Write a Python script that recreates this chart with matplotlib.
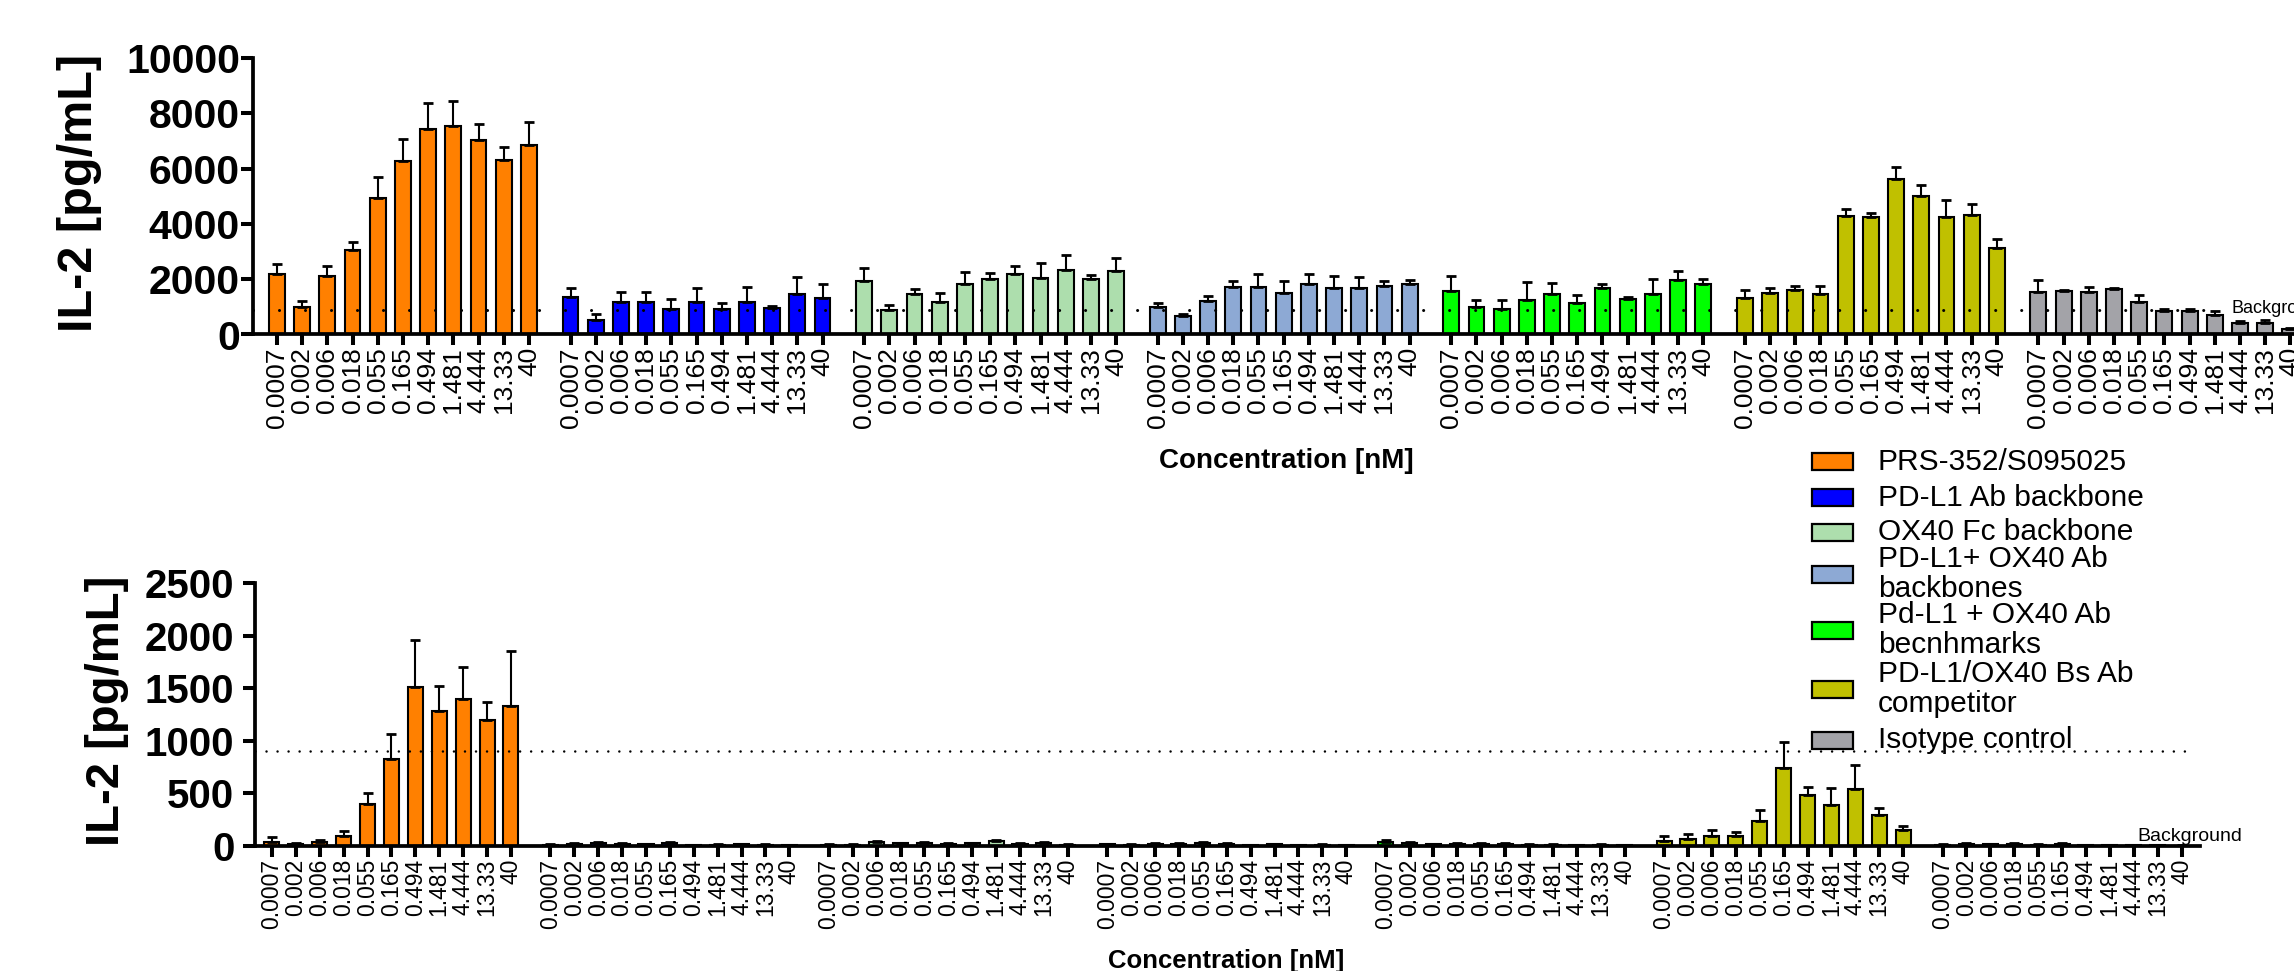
import matplotlib
matplotlib.use("Agg")
import matplotlib.pyplot as plt
from matplotlib.patches import Rectangle
import numpy as np

plt.rcParams["font.family"] = ["Liberation Sans", "DejaVu Sans"]

# ---------------------------------------------------------------- data
concentrations = ["0.0007", "0.002", "0.006", "0.018", "0.055", "0.165",
                  "0.494", "1.481", "4.444", "13.33", "40"]

group_names = ["PRS-352/S095025", "PD-L1 Ab backbone", "OX40 Fc backbone",
               "PD-L1+ OX40 Ab\nbackbones", "Pd-L1 + OX40 Ab\nbecnhmarks",
               "PD-L1/OX40 Bs Ab\ncompetitor", "Isotype control"]
group_colors = ["#FF8000", "#0000FF", "#ADDEAD", "#8DA9D4",
                "#00FF00", "#C0C000", "#A3A3A8"]

background = 900

# upper panel, IL-2 [pg/mL] (mean, SD)
top_prs = [2190, 1000, 2130, 3060, 4950, 6260, 7450, 7550, 7020, 6320, 6870]
top_prs_sd = [350, 220, 350, 280, 760, 810, 940, 890, 600, 460, 830]
top_pdl1 = [1365, 520, 1185, 1185, 930, 1160, 930, 1160, 965, 1475, 1330]
top_pdl1_sd = [330, 230, 350, 350, 350, 510, 200, 560, 50, 620, 510]
top_ox40 = [1945, 880, 1450, 1185, 1835, 2015, 2185, 2055, 2320, 2015, 2305]
top_ox40_sd = [470, 180, 200, 300, 430, 200, 300, 530, 570, 150, 460]
top_combo = [990, 665, 1210, 1715, 1715, 1500, 1835, 1680, 1680, 1765, 1835]
top_combo_sd = [160, 85, 200, 220, 480, 430, 340, 450, 410, 170, 145]
top_bench = [1570, 990, 920, 1255, 1475, 1150, 1680, 1280, 1475, 1970, 1825]
top_bench_sd = [560, 250, 330, 640, 400, 290, 160, 75, 530, 340, 190]
top_bs = [1330, 1500, 1595, 1475, 4275, 4250, 5640, 5025, 4265, 4325, 3140]
top_bs_sd = [265, 190, 160, 290, 265, 145, 435, 375, 600, 410, 300]
top_iso = [1535, 1570, 1545, 1630, 1185, 857, 857, 712, 411, 398, 181]
top_iso_sd = [450, 30, 180, 50, 240, 70, 60, 130, 85, 110, 40]

# lower panel, IL-2 [pg/mL] (mean, SD)
bot_prs = [41, 22, 41, 98, 400, 828, 1507, 1288, 1393, 1202, 1329]
bot_prs_sd = [40, 10, 20, 40, 100, 235, 455, 230, 310, 170, 520]
bot_pdl1 = [12, 22, 30, 18, 15, 25, 10, 12, 15, 10, 8]
bot_pdl1_sd = [5, 8, 8, 6, 5, 10, 4, 5, 6, 5, 4]
bot_ox40 = [10, 12, 40, 25, 25, 22, 25, 45, 20, 25, 10]
bot_ox40_sd = [5, 5, 12, 8, 10, 8, 8, 12, 6, 10, 5]
bot_combo = [15, 12, 20, 18, 30, 20, 10, 15, 8, 12, 8]
bot_combo_sd = [5, 5, 6, 6, 10, 8, 4, 6, 4, 5, 3]
bot_bench = [35, 30, 15, 18, 20, 22, 12, 12, 10, 10, 8]
bot_bench_sd = [20, 12, 6, 8, 8, 10, 5, 5, 4, 6, 4]
bot_bs = [51, 70, 95, 95, 238, 742, 485, 387, 543, 295, 155]
bot_bs_sd = [40, 45, 55, 40, 105, 245, 80, 160, 230, 67, 38]
bot_iso = [10, 18, 15, 20, 12, 22, 8, 8, 8, 5, 3]
bot_iso_sd = [5, 10, 6, 8, 5, 10, 4, 4, 4, 3, 2]

top_means = [top_prs, top_pdl1, top_ox40, top_combo, top_bench, top_bs, top_iso]
top_sds = [top_prs_sd, top_pdl1_sd, top_ox40_sd, top_combo_sd,
           top_bench_sd, top_bs_sd, top_iso_sd]
bot_means = [bot_prs, bot_pdl1, bot_ox40, bot_combo, bot_bench, bot_bs, bot_iso]
bot_sds = [bot_prs_sd, bot_pdl1_sd, bot_ox40_sd, bot_combo_sd,
           bot_bench_sd, bot_bs_sd, bot_iso_sd]

# ---------------------------------------------------------------- layout
W, H = 2294, 971
GROUP_STEP = 11.65   # bar slots from one group to the next
BAR_W = 0.63


def fx(px):
    return px / W


def fy(py):
    return 1 - py / H


fig = plt.figure(figsize=(W / 100, H / 100), dpi=100)
fig.patch.set_facecolor("white")


def draw_panel(ax, means, sds, ymax, ystep, xtick_size, ytick_size):
    n = len(concentrations)
    all_x = []
    for g, (m, s, c) in enumerate(zip(means, sds, group_colors)):
        x = g * GROUP_STEP + np.arange(n)
        all_x.extend(x)
        ax.bar(x, m, width=BAR_W, color=c, edgecolor="black",
               linewidth=1.5, zorder=2)
        ax.errorbar(x, m, yerr=[np.zeros(n), s], fmt="none", ecolor="black",
                    elinewidth=1.5, capsize=3.6, capthick=2.0, zorder=3)
    ax.set_ylim(0, ymax)
    ax.set_yticks(np.arange(0, ymax + 1, ystep))
    ax.set_xticks(all_x)
    ax.set_xticklabels(concentrations * len(means), rotation=90,
                       fontsize=xtick_size)
    for lab in ax.get_yticklabels():
        lab.set_fontweight("bold")
        lab.set_fontsize(ytick_size)
    for side in ("top", "right"):
        ax.spines[side].set_visible(False)
    for side in ("left", "bottom"):
        ax.spines[side].set_linewidth(2.7)
    ax.tick_params(axis="x", length=8, width=2.9, pad=1)
    ax.tick_params(axis="y", length=8.5, width=2.9)
    ax.set_facecolor("none")
    return all_x


# upper panel
ax1 = fig.add_axes([fx(253), fy(334.5), fx(2340) - fx(253), fy(58) - fy(334.5)])
xs1 = draw_panel(ax1, top_means, top_sds, 10000, 2000, 19, 29.5)
left1 = -0.95
ax1.set_xlim(left1, left1 + (2340 - 253) / 25.2)
ax1.tick_params(axis="y", pad=1)
bg_end1 = xs1[-4] + 0.25
ax1.plot([left1, bg_end1], [background, background], color="black",
         lw=2.2, linestyle=(0, (0.01, 8.5)), dash_capstyle="round", zorder=4)
ax1.text(bg_end1 + 0.4, background + 30, "Background", fontsize=13,
         ha="left", va="center", zorder=5)

# lower panel
ax2 = fig.add_axes([fx(254.5), fy(846), fx(2200) - fx(254.5), fy(583) - fy(846)])
xs2 = draw_panel(ax2, bot_means, bot_sds, 2500, 500, 16.5, 29)
left2 = -0.73
ax2.set_xlim(left2, left2 + (2200 - 254.5) / 23.9)
ax2.tick_params(axis="y", pad=6)
ax2.plot([left2, xs2[-1] + 0.4], [background, background], color="black",
         lw=1.8, linestyle=(0, (0.01, 4.4)), dash_capstyle="round", zorder=4)
ax2.text(xs2[-3] + 0.15, 8, "Background", fontsize=14, ha="left",
         va="bottom", zorder=5)

# axis titles
fig.text(fx(80), fy(193), "IL-2 [pg/mL]", rotation=90, fontsize=35,
         fontweight="bold", ha="center", va="center")
fig.text(fx(107), fy(711), "IL-2 [pg/mL]", rotation=90, fontsize=34,
         fontweight="bold", ha="center", va="center")
fig.text(fx(1286), fy(468), "Concentration [nM]", fontsize=20,
         fontweight="bold", ha="center", va="baseline")
fig.text(fx(1226), fy(968), "Concentration [nM]", fontsize=18.5,
         fontweight="bold", ha="center", va="baseline")

# legend
legend_rows = [462, 498, 532, 574, 630, 689, 740]
for name, color, yc in zip(group_names, group_colors, legend_rows):
    rect = Rectangle((fx(1812), fy(yc + 8.5)), fx(41), 17 / H,
                     transform=fig.transFigure, facecolor=color,
                     edgecolor="black", linewidth=1.6, zorder=6)
    fig.add_artist(rect)
    fig.text(fx(1878), fy(yc), name, fontsize=21.5, ha="left", va="center",
             linespacing=1.1, zorder=6)

fig.savefig("out.png", dpi=100, facecolor="white")
